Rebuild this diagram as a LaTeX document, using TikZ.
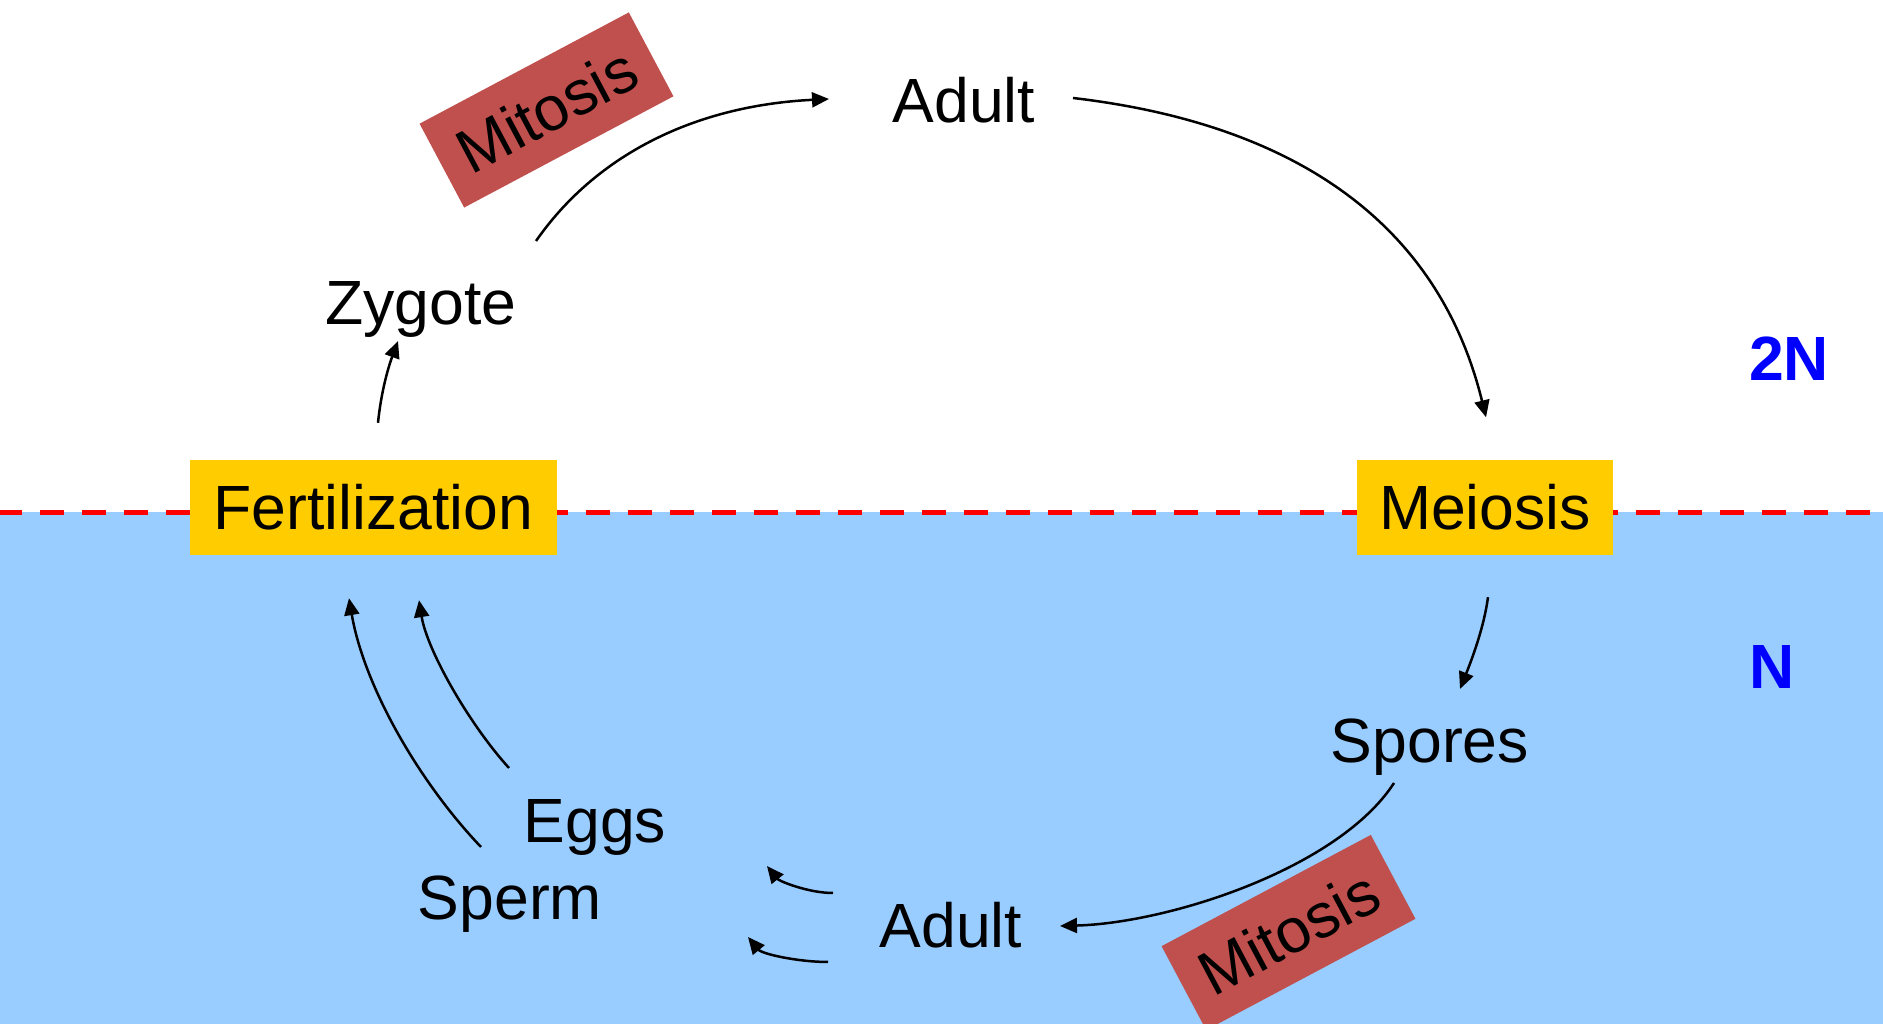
\documentclass[tikz,border=0pt]{standalone}
\usepackage{fontspec}
\setmainfont{Liberation Sans}
\usetikzlibrary{arrows.meta}
\definecolor{haploid}{HTML}{99CCFF}
\definecolor{stage}{HTML}{FFCC00}
\definecolor{mitred}{HTML}{C0504D}
\tikzset{
  lbl/.style={anchor=base, inner sep=0pt, font=\fontsize{62.5}{70}\selectfont},
  stagebox/.style={fill=stage, minimum height=95pt, inner sep=0pt, font=\fontsize{62.5}{70}\selectfont},
  mitbox/.style={fill=mitred, rotate=28, minimum width=237pt, minimum height=95pt, inner sep=0pt, font=\fontsize{62.5}{70}\selectfont},
  ploidy/.style={anchor=base, inner sep=0pt, text=blue, font=\fontsize{62.5}{70}\selectfont\bfseries},
  arr/.style={line width=2.5pt, -{Triangle[length=17pt,width=15pt]}}
}
\begin{document}
\begin{tikzpicture}[x=1pt,y=1pt]
  \useasboundingbox (0,0) rectangle (1883,1024);
  \clip (0,0) rectangle (1883,1024);
  \fill [haploid] (0,0) rectangle (1883,512);
  \draw [red, line width=5pt, dash pattern=on 24pt off 18pt] (-2,511.5) -- (1885,511.5);
  \node [stagebox, minimum width=367pt] (fert) at (373.5,516.5) {Fertilization};
  \node [stagebox, minimum width=256pt] (meio) at (1485,516.5) {Meiosis};
  \node [lbl] (zyg) at (421,699) {Zygote};
  \node [lbl] (adult1) at (964,901) {Adult};
  \node [lbl] (spores) at (1430,261.5) {Spores};
  \node [lbl] (adult2) at (951,76) {Adult};
  \node [lbl] (eggs) at (595,181) {Eggs};
  \node [lbl] (sperm) at (510,104) {Sperm};
  \node [mitbox] (mit1) at (546.5,914) {Mitosis};
  \node [mitbox] (mit2) at (1288.5,91.5) {Mitosis};
  \node [ploidy] (dip) at (1789,643) {2N};
  \node [ploidy] (hap) at (1772,335) {N};
  \draw [arr] ([shift={(115,84)}]zyg.base) .. controls +(57,82) and +(-140,-7) .. ([shift={(-135,24)}]adult1.base);
  \draw [arr] ([shift={(109,25)}]adult1.base) .. controls +(230,-27) and +(-46,188) .. ([shift={(1,42.5)}]meio.north);
  \draw [arr] ([shift={(4.5,37)}]fert.north) .. controls +(3,30) and +(-10,-27) .. ([shift={(-23,-16)}]zyg.base);
  \draw [arr] ([shift={(3,-42)}]meio.south) .. controls +(-4,-30) and +(12,30) .. ([shift={(30,73.5)}]spores.base);
  \draw [arr] ([shift={(-36,-20.5)}]spores.base) .. controls +(-55,-85) and +(110,3) .. ([shift={(109,22)}]adult2.base);
  \draw [arr] ([shift={(-86,75)}]eggs.base) .. controls +(-40,44) and +(8,-50) .. ([shift={(45.5,-45)}]fert.south);
  \draw [arr] ([shift={(-29,73)}]sperm.base) .. controls +(-62,65) and +(15,-88) .. ([shift={(-24.5,-43)}]fert.south);
  \draw [arr] ([shift={(-118,55)}]adult2.base) .. controls +(-25,0) and +(12,-15) .. ([shift={(172,-23)}]eggs.base);
  \draw [arr] ([shift={(-123,-14)}]adult2.base) .. controls +(-30,0) and +(14,-17) .. ([shift={(238,-17)}]sperm.base);
\end{tikzpicture}
\end{document}
